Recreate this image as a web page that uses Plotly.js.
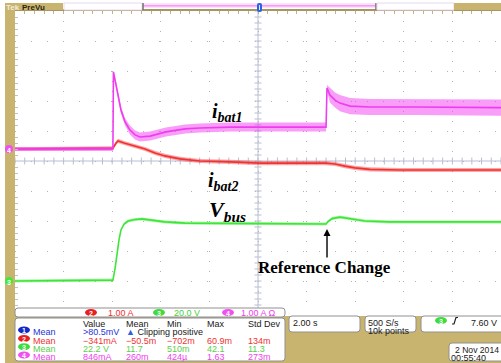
<!DOCTYPE html>
<html><head><meta charset="utf-8">
<script src="https://cdn.plot.ly/plotly-3.0.1.min.js"></script>
<style>html,body{margin:0;padding:0;background:#fff}#plot{width:501px;height:363px}</style>
</head><body><div id="plot"></div>
<script>
// ---------------- DATA (time in s, 2 s/div; amplitude in graticule divisions) ----------------
// ch4 : i_bat1 (magenta)
const t_ibat1 = [0, 4.03, 4.05, 4.12, 4.24, 4.36, 4.53, 4.73, 4.94, 5.14, 5.56, 6.21, 7.00, 7.61, 8.85, 10.08, 11.73, 12.80, 12.84, 12.96, 13.17, 13.37, 13.79, 14.61, 16.5, 18.5, 20];
const v_ibat1 = [0.40, 0.40, 2.97, 2.70, 2.20, 1.70, 1.30, 1.03, 0.87, 0.80, 0.83, 0.97, 1.07, 1.10, 1.13, 1.13, 1.13, 1.13, 2.43, 2.20, 2.03, 1.93, 1.83, 1.80, 1.80, 1.78, 1.78];
const n_ibat1 = [0.07, 0.07, 0.05, 0.10, 0.12, 0.12, 0.12, 0.15, 0.15, 0.15, 0.15, 0.15, 0.15, 0.15, 0.15, 0.15, 0.15, 0.15, 0.10, 0.25, 0.25, 0.27, 0.27, 0.27, 0.27, 0.27, 0.27];
// ch2 : i_bat2 (red)
const t_ibat2 = [0, 4.03, 4.16, 4.24, 4.49, 4.94, 5.35, 5.76, 6.17, 6.79, 7.61, 8.85, 10.08, 12.80, 13.17, 13.58, 13.99, 14.61, 15.84, 18, 20];
const v_ibat2 = [0.40, 0.43, 0.60, 0.67, 0.60, 0.50, 0.40, 0.27, 0.17, 0.07, 0.00, -0.03, -0.07, -0.07, -0.10, -0.17, -0.23, -0.28, -0.30, -0.30, -0.30];
const n_ibat2 = [0.06, 0.06, 0.07, 0.07, 0.07, 0.07, 0.07, 0.07, 0.07, 0.07, 0.07, 0.07, 0.07, 0.07, 0.07, 0.07, 0.07, 0.07, 0.07, 0.07, 0.07];
// ch3 : V_bus (green)
const t_vbus = [0, 4.03, 4.12, 4.20, 4.28, 4.36, 4.49, 4.65, 4.94, 5.23, 5.56, 6.17, 7.00, 8.44, 12.80, 12.88, 13.05, 13.37, 13.79, 14.40, 15.43, 20];
const v_vbus = [-4.00, -3.97, -3.57, -3.07, -2.63, -2.30, -2.10, -2.00, -1.95, -1.93, -1.97, -2.03, -2.07, -2.08, -2.10, -2.02, -1.92, -1.87, -1.92, -2.00, -2.03, -2.03];
const n_vbus = [0.05, 0.05, 0.03, 0.03, 0.03, 0.03, 0.05, 0.05, 0.05, 0.05, 0.05, 0.05, 0.05, 0.05, 0.05, 0.05, 0.05, 0.05, 0.05, 0.05, 0.05, 0.05];
const refChangeT = 12.84;
const labels = {ibat1: 'i<sub>bat1</sub>', ibat2: 'i<sub>bat2</sub>', vbus: 'V<sub>bus</sub>', ref: 'Reference Change'};
const chanScales = ['1.00 A', '20.0 V', '1.00 A Ω'];
const measHeader = ['Value', 'Mean', 'Min', 'Max', 'Std Dev'];
const measRows = [
  ['>80.5mV', '', '', '', ''],
  ['−341mA', '−50.5m', '−702m', '60.9m', '134m'],
  ['22.2 V', '11.7', '510m', '42.1', '11.3'],
  ['846mA', '260m', '424µ', '1.63', '273m']
];
const horizText = ['2.00 s'];
const acqText = ['500 S/s', '10k points'];
const trigText = '7.60 V';
const dateText = ['2 Nov 2014', '00:55:40'];

// ---------------- LAYOUT HELPERS ----------------
const L = 15, R = 501, T = 11, B = 311;
const X = px => (px - L) / (R - L);
const Y = py => (B - py) / (B - T);
const KHAKI = '#c8b46e';
const shapes = [], ann = [];
function rect(x0, y0, x1, y1, fill, line, lw) {
  shapes.push({type: 'rect', xref: 'paper', yref: 'paper', layer: 'above', x0: X(x0), x1: X(x1), y0: Y(y0), y1: Y(y1),
    fillcolor: fill, line: {color: line || fill, width: lw === undefined ? 0 : lw}});
}
function rr(x0, y0, x1, y1, r, fill, line) {
  const p = `M ${X(x0 + r)} ${Y(y0)} L ${X(x1 - r)} ${Y(y0)} Q ${X(x1)} ${Y(y0)} ${X(x1)} ${Y(y0 + r)} L ${X(x1)} ${Y(y1 - r)} Q ${X(x1)} ${Y(y1)} ${X(x1 - r)} ${Y(y1)} L ${X(x0 + r)} ${Y(y1)} Q ${X(x0)} ${Y(y1)} ${X(x0)} ${Y(y1 - r)} L ${X(x0)} ${Y(y0 + r)} Q ${X(x0)} ${Y(y0)} ${X(x0 + r)} ${Y(y0)} Z`;
  shapes.push({type: 'path', xref: 'paper', yref: 'paper', layer: 'above', path: p, fillcolor: fill, line: {color: line || fill, width: line ? 1 : 0}});
}
function seg(x0, y0, x1, y1, color, w) {
  shapes.push({type: 'line', xref: 'paper', yref: 'paper', layer: 'above', x0: X(x0), x1: X(x1), y0: Y(y0), y1: Y(y1), line: {color, width: w}});
}
function txt(x, y, text, color, size, opts) {
  opts = opts || {};
  const dy = opts.dy !== undefined ? opts.dy : (size <= 9 ? 2 : 0);
  ann.push({xref: 'paper', yref: 'paper', x: X(x), y: Y(y + dy), text, showarrow: false, xanchor: opts.xa || 'left', yanchor: 'middle',
    font: {family: opts.family || 'Liberation Sans, Arial, sans-serif', size, color}, borderpad: 0});
}
function badge(cx, cy, w, h, fill, label) {
  shapes.push({type: 'circle', xref: 'paper', yref: 'paper', layer: 'above', x0: X(cx - w / 2), x1: X(cx + w / 2), y0: Y(cy - h / 2), y1: Y(cy + h / 2), fillcolor: fill, line: {width: 0}});
  txt(cx, cy, '<b>' + label + '</b>', '#ffffff', 7, {xa: 'center', dy: 0.8});
}

// ---------------- TRACES ----------------
const traces = [];
// centre-line tick marks (graticule decoration)
const tx = [], ty = [], vx = [], vy = [];
for (let i = 0; i <= 50; i++) { tx.push(i * 0.4); ty.push(0); }
for (let i = 0; i <= 50; i++) { vx.push(10); vy.push(-5 + i * 0.2); }
traces.push({x: tx, y: ty, mode: 'markers', marker: {symbol: 'line-ns', size: 5, line: {width: 1, color: '#b8bed2'}}, hoverinfo: 'skip', showlegend: false});
traces.push({x: vx, y: vy, mode: 'markers', marker: {symbol: 'line-ew', size: 5, line: {width: 1, color: '#b8bed2'}}, hoverinfo: 'skip', showlegend: false});

function signal(t, v, n, color, band) {
  traces.push({x: t, y: v.map((c, i) => c + n[i]), mode: 'lines', line: {width: 0, color: band}, hoverinfo: 'skip', showlegend: false});
  traces.push({x: t, y: v.map((c, i) => c - n[i]), mode: 'lines', line: {width: 0, color: band}, fill: 'tonexty', fillcolor: band, hoverinfo: 'skip', showlegend: false});
  traces.push({x: t, y: v, mode: 'lines', line: {width: 1.6, color}, hoverinfo: 'skip', showlegend: false});
}
signal(t_vbus, v_vbus, n_vbus, '#3ee63a', 'rgba(70,235,60,0.45)');
signal(t_ibat2, v_ibat2, n_ibat2, '#f03232', 'rgba(245,60,60,0.45)');
signal(t_ibat1, v_ibat1, n_ibat1, '#f03cf0', 'rgba(242,60,242,0.50)');

// ---------------- DECORATION ----------------
// top bar
rect(5, 3, 63, 10, KHAKI);
txt(5, 6.8, '<b>Tek</b>', '#f3edd6', 8, {dy: 0.5});
txt(21, 6.8, '<b>PreVu</b>', '#2a2410', 8, {dy: 0.5});
rect(64, 3, 142, 10, '#ffffff', '#ead8ea', 1);
rect(143, 3, 376, 8, '#fde2fd');
seg(143, 5.7, 376, 5.7, '#f49af4', 1.5);
seg(143, 3, 143, 10, '#707070', 1.5);
seg(376, 3, 376, 10, '#707070', 1.5);
rect(377, 3, 454, 10, '#ffffff', '#ead8ea', 1);
rect(454, 3, 501, 10, KHAKI);
rr(257, 3, 262, 12, 2, '#2a62e0');
seg(259.5, 5, 259.5, 10, '#d8e4ff', 1);
// left strip & bottom khaki
rect(5, 10, 15, 363, KHAKI);
rect(5, 316, 501, 363, KHAKI);
// channel markers on the left
rr(5, 145, 13, 153, 4, '#f050f0');
txt(9, 149.2, '<b>4</b>', '#ffffff', 7, {xa: 'center', dy: 0.8});
rr(5, 277, 13, 285, 4, '#46e63c');
txt(9, 281.2, '<b>3</b>', '#ffffff', 7, {xa: 'center', dy: 0.8});
// channel bar
rr(15, 308, 285, 317, 3, '#ffffff', '#909090');
badge(91, 312.5, 12, 7, '#e82020', '2'); txt(107, 312.5, chanScales[0], '#f03232', 9, {dy: 0.6});
badge(159, 312.5, 12, 7, '#3cdc3c', '3'); txt(173, 312.5, chanScales[1], '#48d040', 9, {dy: 0.6});
badge(228, 312.5, 12, 7, '#f050f0', '4'); txt(240, 312.5, chanScales[2], '#f040f0', 9, {dy: 0.6});
// measurement panel
rr(15, 318, 285, 361, 3, '#ffffff', '#909090');
const colX = [82, 125, 166, 206, 247];
const rowY = [330, 338.5, 346.7, 355];
const rowCol = ['#2434d8', '#f03232', '#5ad048', '#f040f0'];
const badgeCol = ['#1428c8', '#e82020', '#3cdc3c', '#f050f0'];
measHeader.forEach((h, i) => txt(colX[i], 322, h, '#202020', 9));
measRows.forEach((row, r) => {
  badge(24, rowY[r], 12, 7, badgeCol[r], String(r + 1));
  txt(32, rowY[r], 'Mean', rowCol[r], 9);
  row.forEach((v, c) => { if (v) txt(colX[c], rowY[r], v, rowCol[r], 9); });
});
txt(125, rowY[0], '<span style="color:#2a62e0">▲</span> Clipping positive', '#202020', 9);
// horizontal / acquisition / trigger / date boxes
rr(289, 316, 360, 332, 3, '#ffffff', '#909090');
txt(292, 320.5, horizText[0], '#202020', 9);
rr(365, 316, 416, 332, 3, '#ffffff', '#909090');
txt(367, 320.5, acqText[0], '#202020', 9);
txt(367, 328.5, acqText[1], '#202020', 9);
rr(421, 316, 506, 332, 3, '#ffffff', '#909090');
badge(441, 320.5, 12, 7, '#3cdc3c', '3');
shapes.push({type: 'path', xref: 'paper', yref: 'paper', layer: 'above', line: {color: '#202020', width: 1.2},
  path: `M ${X(452)} ${Y(324)} L ${X(454)} ${Y(324)} L ${X(456)} ${Y(317.5)} L ${X(458)} ${Y(317.5)}`});
txt(498, 320.5, trigText, '#202020', 9, {xa: 'right'});
rr(449, 343, 506, 361, 3, '#ffffff', '#909090');
txt(454, 348, dateText[0], '#202020', 8.6);
txt(450, 355.5, dateText[1], '#202020', 9);

// signal labels
const serif = 'Liberation Serif, Times New Roman, serif';
txt(211, 113, '<b><i>' + labels.ibat1 + '</i></b>', '#000000', 20, {family: serif});
txt(207, 181, '<b><i>' + labels.ibat2 + '</i></b>', '#000000', 20, {family: serif});
txt(208, 211, '<b><i>' + labels.vbus + '</i></b>', '#000000', 22, {family: serif});
txt(257, 267.5, '<b>' + labels.ref + '</b>', '#000000', 17, {family: serif});
ann.push({xref: 'x', yref: 'y', x: refChangeT, y: -2.27, ax: 0, ay: 30, text: '', showarrow: true,
  arrowhead: 2, arrowsize: 1, arrowwidth: 1.4, arrowcolor: '#000000'});

const layout = {
  width: 501, height: 363,
  margin: {l: 15, r: 0, t: 11, b: 52, pad: 0},
  paper_bgcolor: '#ffffff', plot_bgcolor: '#ffffff',
  showlegend: false,
  xaxis: {range: [0, 20], dtick: 2, tick0: 0, showgrid: true, gridcolor: '#b4b4b4', griddash: '1px,9px', gridwidth: 1,
    zeroline: false, showticklabels: false, ticks: '', showline: false, fixedrange: true},
  xaxis2: {range: [0, 20], overlaying: 'x', side: 'top', showline: true, linecolor: '#a89464', linewidth: 2,
    ticks: 'inside', dtick: 0.4, tick0: 0, ticklen: 3, tickcolor: '#c0b490', showgrid: false, showticklabels: false, zeroline: false},
  yaxis: {range: [-5, 5], dtick: 1, tick0: 0, showgrid: true, gridcolor: '#b4b4b4', griddash: '1px,15px', gridwidth: 1,
    zeroline: false, showticklabels: false, ticks: '', showline: false, fixedrange: true,
    minor: {dtick: 0.2, ticks: 'inside', ticklen: 3, tickcolor: '#c0c0d0', showgrid: false}},
  shapes: [
    {type: 'line', xref: 'paper', yref: 'y', x0: 0, x1: 1, y0: 0, y1: 0, layer: 'below', line: {color: '#b8bed2', width: 1}},
    {type: 'line', xref: 'x', yref: 'paper', x0: 10, x1: 10, y0: 0, y1: 1, layer: 'below', line: {color: '#b8bed2', width: 1}}
  ].concat(shapes),
  annotations: ann
};
// dummy trace to activate top axis
traces.unshift({x: [0, 20], y: [0, 0], xaxis: 'x2', mode: 'lines', line: {width: 0}, hoverinfo: 'skip', showlegend: false});
Plotly.newPlot('plot', traces, layout, {staticPlot: true, displayModeBar: false});
</script></body></html>
